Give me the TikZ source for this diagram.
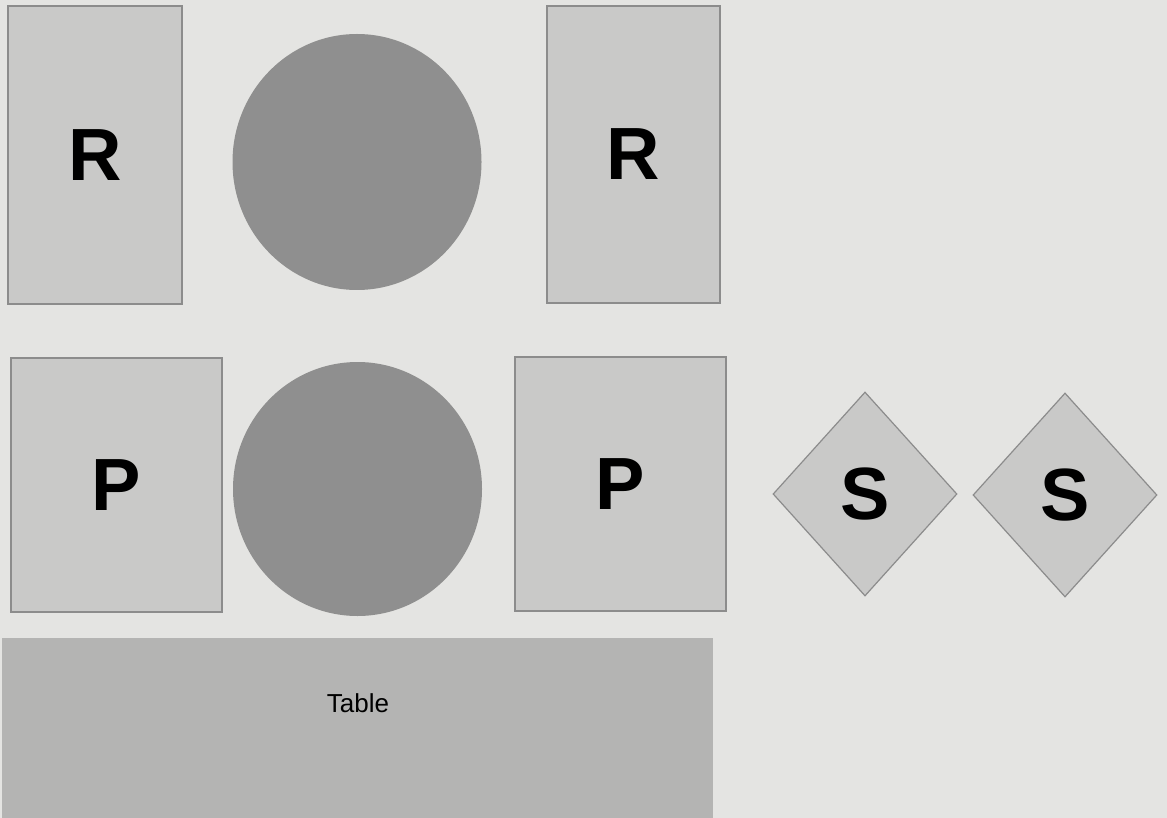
\documentclass[tikz,border=0pt]{standalone}
\usepackage{fontspec}
\setmainfont{Liberation Sans}
\usetikzlibrary{shapes.geometric}
\definecolor{paper}{HTML}{E4E4E2}
\definecolor{boxfill}{HTML}{C9C9C8}
\definecolor{boxline}{HTML}{8C8C8C}
\definecolor{discfill}{HTML}{8F8F8F}
\definecolor{tablefill}{HTML}{B4B4B3}
\tikzset{
  chairbox/.style={draw=boxline, fill=boxfill, line width=1.2pt, inner sep=0pt,
    font=\fontsize{74}{80}\selectfont\bfseries},
  disc/.style={ellipse, fill=discfill, inner sep=0pt},
  stoolbox/.style={diamond, draw=boxline, fill=boxfill, line width=1.2pt, inner sep=0pt,
    font=\fontsize{74}{80}\selectfont\bfseries},
  tablebox/.style={fill=tablefill, inner sep=0pt},
  tablelabel/.style={font=\fontsize{26}{30}\selectfont, inner sep=0pt}
}
\begin{document}
\begin{tikzpicture}[x=1pt,y=-1pt]
\useasboundingbox[fill=paper] (0,0) rectangle (1167,818);
% top row
\node[chairbox, minimum width=174, minimum height=298] (r1) at (95,155) {R};
\node[disc, minimum width=249, minimum height=256] (c1) at (357,162) {};
\node[chairbox, minimum width=173, minimum height=297] (r2) at (633.5,154.5) {R};
% middle row
\node[chairbox, minimum width=211, minimum height=254] (p1) at (116.5,485) {P};
\node[disc, minimum width=249, minimum height=254] (c2) at (357.5,489) {};
\node[chairbox, minimum width=211, minimum height=254] (p2) at (620.5,484) {P};
\node[stoolbox, minimum width=184, minimum height=204] (s1) at (865,494) {S};
\node[stoolbox, minimum width=184, minimum height=204] (s2) at (1065,495) {S};
% table
\node[tablebox, minimum width=711, minimum height=182] (tbl) at (357.5,729) {};
\node[tablelabel] (tlabel) at (358,703) {Table};
\end{tikzpicture}
\end{document}
